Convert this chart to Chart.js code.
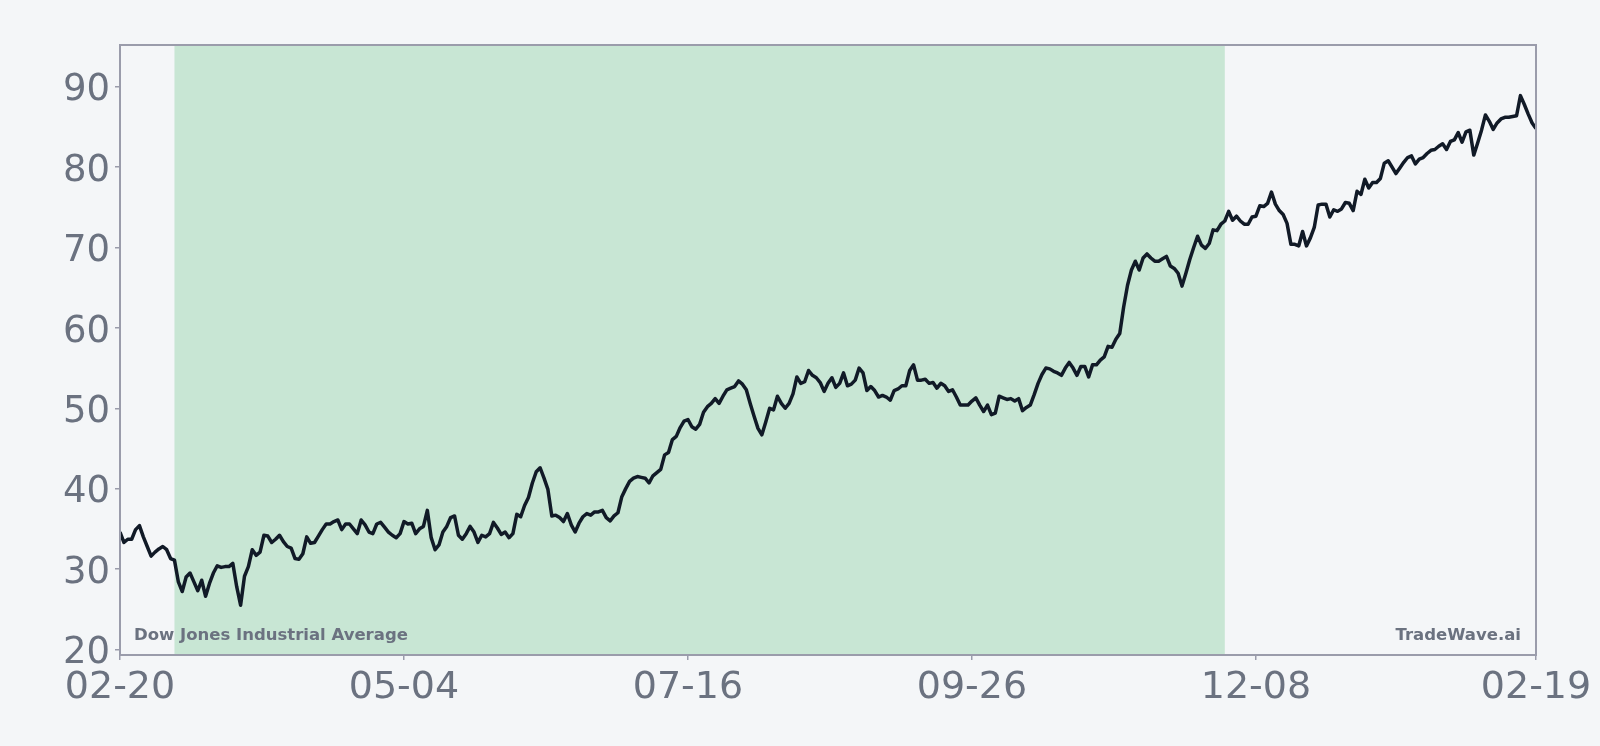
<!DOCTYPE html>
<html>
<head>
<meta charset="utf-8">
<title>Dow Jones Industrial Average</title>
<script src="https://cdn.jsdelivr.net/npm/chart.js@4.4.1/dist/chart.umd.min.js"></script>
<style>
  html, body { margin: 0; padding: 0; background: #f4f6f8; }
  #chart { display: block; }
</style>
</head>
<body>
<canvas id="chart" width="1600" height="746"></canvas>
<script>
// Daily values, one per calendar day from 02-20 to 02-19 (day index 0..364)
const dailyValues = [
  34.6, 33.3, 33.7, 33.7, 34.9, 35.4, 34.0, 32.8, 31.6, 32.1,
  32.5, 32.8, 32.4, 31.3, 31.1, 28.4, 27.2, 29.0, 29.5, 28.4,
  27.3, 28.6, 26.6, 28.2, 29.5, 30.4, 30.2, 30.3, 30.3, 30.7,
  27.8, 25.5, 29.1, 30.3, 32.4, 31.7, 32.1, 34.2, 34.1, 33.3,
  33.7, 34.2, 33.4, 32.8, 32.6, 31.3, 31.2, 31.9, 34.0, 33.2,
  33.3, 34.1, 34.9, 35.6, 35.6, 35.9, 36.1, 34.9, 35.6, 35.6,
  35.0, 34.4, 36.1, 35.5, 34.6, 34.4, 35.6, 35.8, 35.2, 34.6,
  34.2, 33.9, 34.4, 35.9, 35.6, 35.7, 34.4, 35.0, 35.3, 37.3,
  33.9, 32.4, 33.0, 34.6, 35.3, 36.4, 36.6, 34.2, 33.7, 34.4,
  35.3, 34.6, 33.3, 34.2, 34.0, 34.4, 35.8, 35.1, 34.3, 34.6,
  33.9, 34.4, 36.8, 36.5, 37.9, 38.9, 40.7, 42.1, 42.6, 41.3,
  39.9, 36.6, 36.7, 36.4, 35.9, 36.9, 35.5, 34.6, 35.7, 36.5,
  36.9, 36.7, 37.1, 37.1, 37.3, 36.4, 36.0, 36.6, 37.0, 39.0,
  40.0, 40.9, 41.3, 41.5, 41.4, 41.3, 40.7, 41.6, 42.0, 42.4,
  44.2, 44.5, 46.1, 46.5, 47.6, 48.4, 48.6, 47.7, 47.4, 48.0,
  49.5, 50.2, 50.6, 51.2, 50.6, 51.5, 52.3, 52.5, 52.7, 53.4,
  53.0, 52.3, 50.6, 49.0, 47.5, 46.7, 48.3, 50.0, 49.8, 51.5,
  50.6, 50.0, 50.6, 51.8, 53.9, 53.1, 53.3, 54.7, 54.1, 53.8,
  53.2, 52.1, 53.1, 53.8, 52.6, 53.1, 54.4, 52.8, 53.0, 53.5,
  55.0, 54.4, 52.2, 52.7, 52.2, 51.4, 51.6, 51.4, 51.0, 52.2,
  52.4, 52.8, 52.8, 54.7, 55.4, 53.5, 53.5, 53.6, 53.1, 53.2,
  52.5, 53.1, 52.8, 52.1, 52.3, 51.4, 50.4, 50.4, 50.4, 50.9,
  51.3, 50.4, 49.6, 50.4, 49.2, 49.4, 51.5, 51.3, 51.1, 51.2,
  50.9, 51.2, 49.7, 50.1, 50.4, 51.7, 53.1, 54.2, 55.0, 54.9,
  54.6, 54.4, 54.1, 55.0, 55.7, 55.0, 54.1, 55.2, 55.2, 53.9,
  55.4, 55.4, 56.0, 56.4, 57.7, 57.6, 58.6, 59.3, 62.6, 65.3,
  67.2, 68.3, 67.2, 68.7, 69.2, 68.7, 68.3, 68.3, 68.6, 68.9,
  67.7, 67.4, 66.8, 65.2, 66.8, 68.5, 70.0, 71.4, 70.3, 69.9,
  70.5, 72.2, 72.1, 72.9, 73.3, 74.5, 73.4, 73.9, 73.3, 72.9,
  72.9, 73.8, 73.9, 75.2, 75.1, 75.5, 76.9, 75.4, 74.6, 74.1,
  73.0, 70.4, 70.4, 70.2, 72.0, 70.2, 71.2, 72.5, 75.3, 75.4,
  75.4, 73.8, 74.7, 74.5, 74.8, 75.6, 75.5, 74.6, 77.0, 76.6,
  78.5, 77.4, 78.1, 78.1, 78.6, 80.5, 80.8, 80.0, 79.2, 79.9,
  80.6, 81.2, 81.4, 80.4, 81.0, 81.2, 81.7, 82.1, 82.2, 82.6,
  82.9, 82.2, 83.2, 83.4, 84.3, 83.1, 84.4, 84.6, 81.5, 83.0,
  84.6, 86.5, 85.7, 84.7, 85.5, 86.0, 86.2, 86.2, 86.3, 86.4,
  88.9, 87.8, 86.6, 85.5, 84.8
];

// x axis ticks (day index) and their labels
const xTickDays = [0, 73, 146, 219, 292, 364];
const xTickLabels = ['02-20', '05-04', '07-16', '09-26', '12-08', '02-19'];

// y axis
const yTicks = [20, 30, 40, 50, 60, 70, 80, 90];
const yMin = 19.3;
const yMax = 95.2;

// highlighted period (day index)
const bandStartDay = 14;
const bandEndDay = 284;

const seriesName = 'Dow Jones Industrial Average';
const brandName = 'TradeWave.ai';

const TEXT_GRAY = '#6b7280';
const FRAME_GRAY = '#9a9cab';

// Page background on the canvas
const chartBg = {
  id: 'chartBg',
  beforeDraw(chart) {
    const ctx = chart.ctx;
    ctx.save();
    ctx.fillStyle = '#f4f6f8';
    ctx.fillRect(0, 0, chart.width, chart.height);
    ctx.restore();
  }
};

// Green highlighted period behind the line
const shadedBand = {
  id: 'shadedBand',
  beforeDatasetsDraw(chart) {
    const { ctx, chartArea, scales } = chart;
    const x0 = scales.x.getPixelForValue(bandStartDay);
    const x1 = scales.x.getPixelForValue(bandEndDay);
    ctx.save();
    ctx.fillStyle = 'rgb(200, 230, 212)';
    ctx.fillRect(x0, chartArea.top, x1 - x0, chartArea.bottom - chartArea.top);
    ctx.restore();
  }
};

// Frame around the plot plus the two corner captions
const frameAndNotes = {
  id: 'frameAndNotes',
  afterDraw(chart) {
    const { ctx, chartArea } = chart;
    ctx.save();
    ctx.strokeStyle = FRAME_GRAY;
    ctx.lineWidth = 2;
    ctx.strokeRect(chartArea.left, chartArea.top,
      chartArea.right - chartArea.left, chartArea.bottom - chartArea.top);

    ctx.fillStyle = TEXT_GRAY;
    ctx.font = 'bold 16.5px "DejaVu Sans", sans-serif';
    ctx.textBaseline = 'alphabetic';
    ctx.textAlign = 'left';
    ctx.fillText(seriesName, chartArea.left + 14, chartArea.bottom - 15);
    ctx.textAlign = 'right';
    ctx.fillText(brandName, chartArea.right - 15, chartArea.bottom - 15);
    ctx.restore();
  }
};

const points = dailyValues.map((v, i) => ({ x: i, y: v }));

new Chart(document.getElementById('chart'), {
  type: 'line',
  data: {
    datasets: [{
      label: seriesName,
      data: points,
      borderColor: '#111a27',
      borderWidth: 3.5,
      borderJoinStyle: 'round',
      pointRadius: 0,
      tension: 0,
      fill: false
    }]
  },
  options: {
    responsive: false,
    animation: false,
    devicePixelRatio: 1,
    layout: {
      padding: { top: 45, right: 64, left: 0, bottom: 0 }
    },
    plugins: {
      legend: { display: false },
      tooltip: { enabled: false }
    },
    scales: {
      x: {
        type: 'linear',
        min: 0,
        max: 364,
        afterBuildTicks: function(scale) {
          scale.ticks = xTickDays.map(d => ({ value: d }));
        },
        afterFit: function(scale) {
          scale.height = 91;
        },
        border: { display: false },
        grid: {
          drawOnChartArea: false,
          tickLength: 5,
          color: FRAME_GRAY,
          lineWidth: 1.5
        },
        ticks: {
          autoSkip: false,
          maxRotation: 0,
          padding: 5,
          color: TEXT_GRAY,
          font: { family: '"DejaVu Sans", sans-serif', size: 38 },
          callback: function(value) {
            const idx = xTickDays.indexOf(value);
            return idx >= 0 ? xTickLabels[idx] : '';
          }
        }
      },
      y: {
        min: yMin,
        max: yMax,
        afterBuildTicks: function(scale) {
          scale.ticks = yTicks.map(v => ({ value: v }));
        },
        afterFit: function(scale) {
          scale.width = 120;
        },
        border: { display: false },
        grid: {
          drawOnChartArea: false,
          tickLength: 5,
          color: FRAME_GRAY,
          lineWidth: 1.5
        },
        ticks: {
          padding: 5,
          labelOffset: 4,
          color: TEXT_GRAY,
          font: { family: '"DejaVu Sans", sans-serif', size: 37 }
        }
      }
    }
  },
  plugins: [chartBg, shadedBand, frameAndNotes]
});
</script>
</body>
</html>
